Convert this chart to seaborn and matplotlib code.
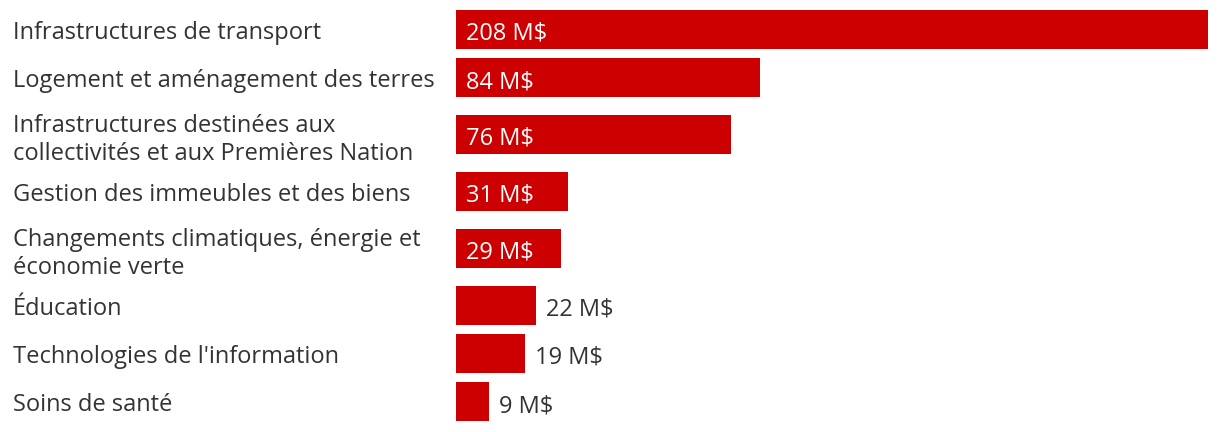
import matplotlib
matplotlib.use("Agg")
import matplotlib.pyplot as plt
import matplotlib.transforms as mtransforms
import numpy as np
import seaborn as sns

# data
categories = [
    "Infrastructures de transport",
    "Logement et aménagement des terres",
    "Infrastructures destinées aux\ncollectivités et aux Premières Nation",
    "Gestion des immeubles et des biens",
    "Changements climatiques, énergie et\néconomie verte",
    "Éducation",
    "Technologies de l'information",
    "Soins de santé",
]
values = [208, 84, 76, 31, 29, 22, 19, 9]
value_labels = [f"{v} M$" for v in values]

sns.set_theme(style="white")
plt.rcParams["font.family"] = ["Open Sans", "DejaVu Sans"]

RED = "#cc0000"
TEXT = "#333333"
FS = 17

# row positions: wrapped labels take a bit more room
n_lines = [c.count("\n") + 1 for c in categories]
heights = [1 + 0.36 * (n - 1) for n in n_lines]
pos = [0.0]
for i in range(1, len(categories)):
    pos.append(pos[-1] + heights[i - 1] / 2 + heights[i] / 2)
pos = np.array(pos)

fig = plt.figure(figsize=(12.2, 4.32), dpi=100)
ax = fig.add_axes([456 / 1220, 11 / 432, (1208 - 456) / 1220, 411 / 432])

sns.barplot(x=values, y=pos, orient="y", native_scale=True, color=RED,
            saturation=1, width=0.8, linewidth=0, ax=ax)

ax.set_xlim(0, 208)
ax.set_ylim(pos[-1] + 0.4, pos[0] - 0.4)
ax.axis("off")

# category labels on the left (baseline of last line is aligned)
trans = mtransforms.blended_transform_factory(fig.transFigure, ax.transData)
for p, c, n in zip(pos, categories, n_lines):
    dy = -(9.5 + 16 * (n - 1)) / 100
    shift = mtransforms.ScaledTranslation(0, dy, fig.dpi_scale_trans)
    ax.text(13 / 1220, p, c, transform=trans + shift, ha="left", va="baseline",
            fontsize=FS, color=TEXT, linespacing=1.2)

# value labels
for p, v, lab in zip(pos, values, value_labels):
    if v >= 29:
        ax.annotate(lab, (0, p), xytext=(10, -10.5), textcoords="offset pixels",
                    ha="left", va="baseline", fontsize=FS, color="white")
    else:
        ax.annotate(lab, (v, p), xytext=(10, -10.5), textcoords="offset pixels",
                    ha="left", va="baseline", fontsize=FS, color=TEXT)

fig.savefig("out.png", dpi=100, facecolor="white")
